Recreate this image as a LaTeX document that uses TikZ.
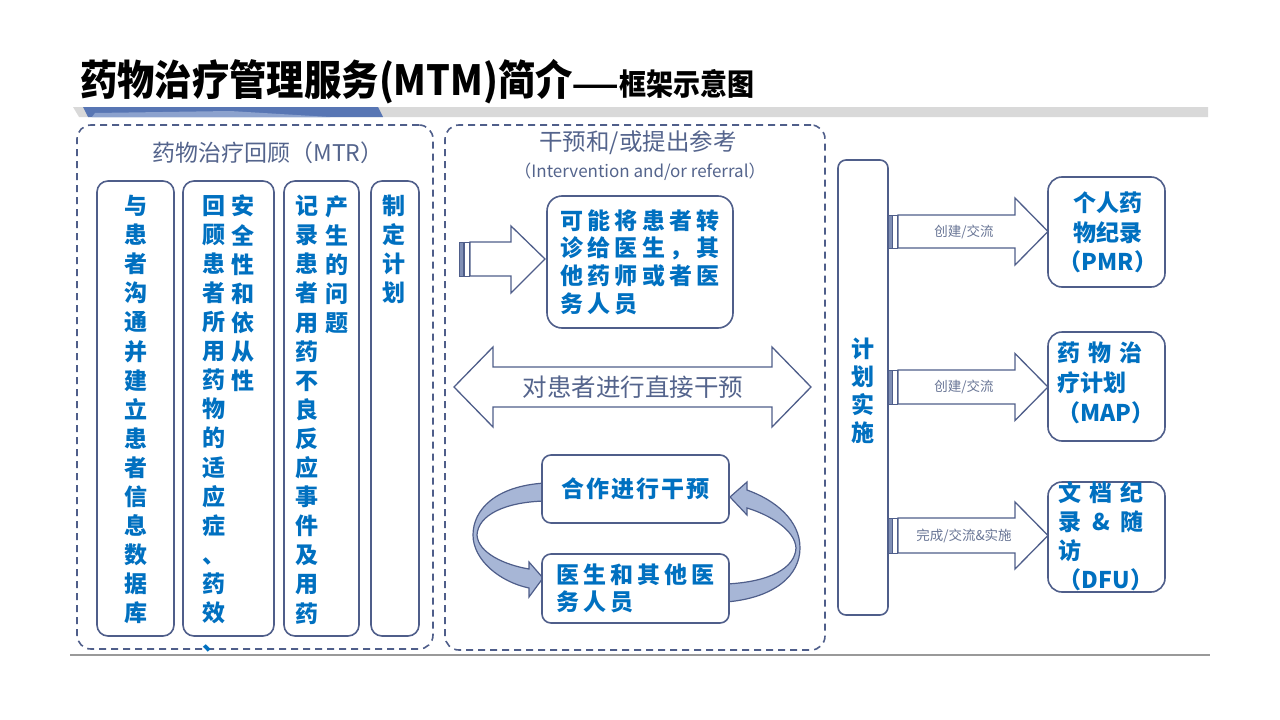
\documentclass[tikz,border=0pt]{standalone}
\usepackage{fontspec}
\setmainfont{Noto Sans CJK SC}
\usetikzlibrary{positioning}
\definecolor{boxline}{RGB}{79,94,138}
\definecolor{txtblue}{RGB}{0,112,192}
\definecolor{txtgray}{RGB}{84,100,140}
\definecolor{lblgray}{RGB}{105,118,150}
\definecolor{bandfill}{RGB}{167,182,214}
\definecolor{stripefill}{RGB}{128,143,181}
\definecolor{barblue}{RGB}{88,118,180}
\definecolor{barlight}{RGB}{140,162,206}
\definecolor{bargray}{RGB}{217,217,217}
\tikzset{
  dashbox/.style={draw=boxline,dash pattern=on 7pt off 5pt,line width=1.6pt,rounded corners=14pt},
  colbox/.style={draw=boxline,fill=white,line width=1.6pt,rounded corners=11pt},
  vcol/.style={anchor=north,inner sep=0pt,align=center,text=txtblue,font=\fontsize{23}{29.1}\selectfont\bfseries},
  bluetext/.style={inner sep=0pt,text=txtblue,font=\fontsize{23}{27.7}\selectfont\bfseries\addfontfeatures{LetterSpace=18}},
  graytext/.style={inner sep=0pt,text=txtgray},
  blockarrow/.style={draw=boxline,fill=white,line width=1.3pt,line join=miter},
  bandarrow/.style={draw=boxline,fill=bandfill,line width=1.2pt}
}
\begin{document}
\begin{tikzpicture}[x=1pt,y=-1pt]
  \useasboundingbox (0,0) rectangle (1280,720);
  % title and banner
  \node[anchor=base west,inner sep=0pt] (title) at (80,95)
    {\scalebox{0.9}[1]{\fontsize{41.5}{41.5}\selectfont\bfseries 药物治疗管理服务(MTM)简介\fontsize{30}{30}\selectfont ——框架示意图}};
  \fill[bargray] (73,107) -- (1208,107) -- (1208,117) -- (79,117) -- cycle;
  \fill[barblue] (83,107) -- (378,107) -- (383,117) -- (88,117) -- cycle;
  \fill[barlight] (95,113) -- (230,111) -- (330,117) -- (92,117) -- cycle;
  \draw[gray!80,line width=1.2pt] (70,655) -- (1210,655);

  % MTR part
  \node[dashbox,minimum width=356pt,minimum height=524pt] (mtr) at (255,387) {};
  \node[graytext,font=\fontsize{23}{23}\selectfont] (mtrtitle) at (268,153) {药物治疗回顾（MTR）};
  \node[colbox,minimum width=77pt,minimum height=455pt] (talk) at (135.5,408.5) {};
  \node[colbox,minimum width=91pt,minimum height=455pt] (review) at (228.5,408.5) {};
  \node[colbox,minimum width=75pt,minimum height=455pt] (record) at (321.5,408.5) {};
  \node[colbox,minimum width=48pt,minimum height=455pt] (plan) at (395,408.5) {};
  \node[vcol] (talktxt) at (136,195) {与\\患\\者\\沟\\通\\并\\建\\立\\患\\者\\信\\息\\数\\据\\库};
  \node[vcol] (reviewa) at (214,195) {回\\顾\\患\\者\\所\\用\\药\\物\\的\\适\\应\\症\\、\\药\\效\\、};
  \node[vcol] (reviewb) at (243,195) {安\\全\\性\\和\\依\\从\\性};
  \node[vcol] (recorda) at (307,195) {记\\录\\患\\者\\用\\药\\不\\良\\反\\应\\事\\件\\及\\用\\药};
  \node[vcol] (recordb) at (337,195) {产\\生\\的\\问\\题};
  \node[vcol] (plantxt) at (394,195) {制\\定\\计\\划};

  % intervention part
  \node[dashbox,minimum width=380pt,minimum height=525pt] (int) at (635,387.5) {};
  \node[graytext,font=\fontsize{23.5}{23.5}\selectfont] (inttitle) at (638,143) {干预和/或提出参考};
  \node[graytext,font=\fontsize{17}{17}\selectfont] (intsub) at (640,172) {（Intervention and/or referral）};
  \draw[blockarrow] (470,242) -- (511,242) -- (511,226) -- (545,259) -- (511,293) -- (511,276) -- (470,276) -- cycle;
  \draw[blockarrow,fill=stripefill,line width=0.8pt] (459,242) rectangle (463,276);
  \draw[blockarrow,line width=0.8pt] (464,242) rectangle (469,276);
  \node[colbox,rounded corners=15pt,minimum width=186pt,minimum height=132pt,bluetext,align=left] (refer) at (640,262)
    {可能将患者转\\诊给医生，其\\他药师或者医\\务人员};
  \draw[blockarrow] (454,387) -- (493,347) -- (493,367) -- (772,367) -- (772,347) -- (811,387)
    -- (772,427) -- (772,407) -- (493,407) -- (493,427) -- cycle;
  \node[graytext,font=\fontsize{24.5}{24.5}\selectfont] (direct) at (633,387) {对患者进行直接干预};
  % curved arrows between the two boxes
  \draw[bandarrow] (545,483) .. controls (495,486) and (473,510) .. (473,535)
    .. controls (473,560) and (500,582) .. (529,588) -- (529,597) -- (543,578) -- (529,562) -- (529,569)
    .. controls (505,565) and (478,553) .. (477,535) .. controls (478,515) and (505,502) .. (545,501) -- cycle;
  \draw[bandarrow] (726,602) .. controls (775,598) and (800,575) .. (800,548)
    .. controls (800,520) and (775,500) .. (747,490) -- (747,482) -- (730,497) -- (747,515) -- (747,508)
    .. controls (770,515) and (795,530) .. (796,548) .. controls (795,568) and (770,582) .. (726,584) -- cycle;
  \node[colbox,rounded corners=9pt,minimum width=187pt,minimum height=68pt,bluetext,align=left,
    font=\fontsize{23}{27.7}\selectfont\bfseries\addfontfeatures{LetterSpace=8}] (coop) at (635.5,489)
    {合作进行干预};
  \node[colbox,rounded corners=9pt,minimum width=187pt,minimum height=69pt,bluetext,align=left] (doctor) at (635.5,588.5)
    {医生和其他医\\务人员};

  % implementation part
  \node[colbox,rounded corners=8pt,minimum width=50pt,minimum height=455pt] (impl) at (863,387.5) {};
  \node[vcol,anchor=center,font=\fontsize{23}{28.2}\selectfont\bfseries] (impltxt) at (863,391) {计\\划\\实\\施};
  \foreach \yc/\hs/\lbl/\nm in {231.5/16.5/创建\slash 交流/pmrarrow,387/17/创建\slash 交流/maparrow,535.5/17.5/完成\slash 交流\&实施/dfuarrow}{
    \draw[blockarrow] (898,\yc-\hs) -- (1015,\yc-\hs) -- (1015,\yc-33.5) -- (1048,\yc) -- (1015,\yc+33.5)
      -- (1015,\yc+\hs) -- (898,\yc+\hs) -- cycle;
    \draw[blockarrow,fill=stripefill,line width=0.8pt] (888,\yc-\hs) rectangle (892,\yc+\hs);
    \draw[blockarrow,line width=0.8pt] (892.5,\yc-\hs) rectangle (897,\yc+\hs);
    \node[text=lblgray,inner sep=0pt,font=\fontsize{13.5}{13.5}\selectfont] (\nm) at (964,\yc) {\lbl};
  }
  \node[colbox,rounded corners=14pt,minimum width=117pt,minimum height=110pt] (pmr) at (1106.5,232) {};
  \node[colbox,rounded corners=14pt,minimum width=117pt,minimum height=109pt] (map) at (1106.5,386.5) {};
  \node[colbox,rounded corners=14pt,minimum width=117pt,minimum height=110pt] (dfu) at (1106.5,537) {};
  \node[inner sep=0pt,align=center,text=txtblue,font=\fontsize{23}{29.5}\selectfont\bfseries] (pmrtxt) at (1108,232.5)
    {个人药\\物纪录\\（PMR）};
  \node[inner sep=0pt,align=left,text=txtblue,font=\fontsize{23}{30}\selectfont\bfseries] (maptxt) at (1106,383)
    {\makebox[85pt][s]{药\hfill 物\hfill 治}\\疗计划\\（MAP）};
  \node[inner sep=0pt,align=left,text=txtblue,font=\fontsize{23}{29}\selectfont\bfseries] (dfutxt) at (1106,536.5)
    {\makebox[85pt][s]{文\hfill 档\hfill 纪}\\\makebox[85pt][s]{录\hfill \&\hfill 随}\\访\\（DFU）};
\end{tikzpicture}
\end{document}
